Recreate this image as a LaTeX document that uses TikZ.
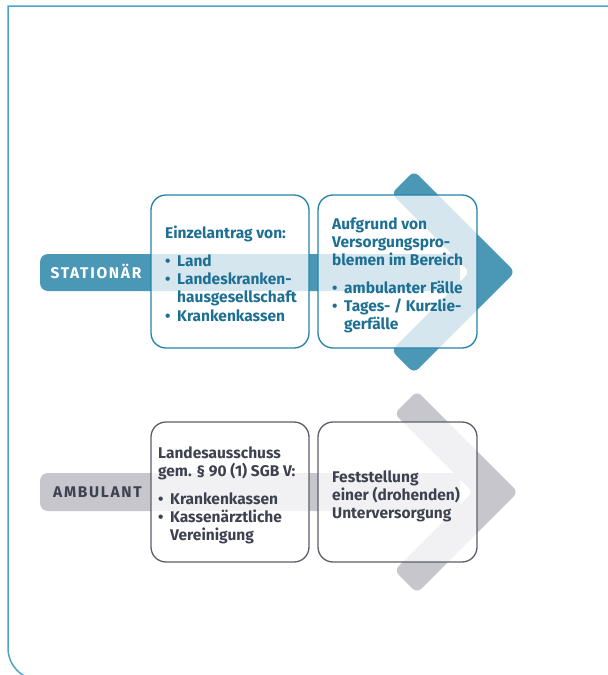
\documentclass[tikz,border=0pt]{standalone}
\usepackage{fontspec}
\setmainfont{Fira Sans}
\definecolor{tealdark}{HTML}{4A97B6}
\definecolor{tealline}{HTML}{2482A8}
\definecolor{tealtext}{HTML}{1D6F94}
\definecolor{graydark}{HTML}{C6C6CC}
\definecolor{grayline}{HTML}{5B5E6B}
\definecolor{graytext}{HTML}{3E4150}
\definecolor{framecol}{HTML}{4AA3C9}
\tikzset{
  box/.style={line width=1.3pt, rounded corners=15pt, fill=white, fill opacity=0.77, minimum width=#1},
  txt/.style={anchor=base west, inner sep=0pt, font=\bfseries\fontsize{15.5}{18}\selectfont},
  lbl/.style={anchor=center, inner sep=0pt, font=\bfseries\fontsize{15.5}{18}\selectfont\addfontfeatures{LetterSpace=11}},
}
\newcommand{\bul}{\makebox[12pt][l]{•}}
\begin{document}
\begin{tikzpicture}[x=1pt,y=-1pt]
\useasboundingbox (0,0) rectangle (608,675);
% frame
\draw[framecol, line width=1.5pt] (620,6) -- (8,6) -- (8,648) .. controls (8,665.7) and (22.3,680) .. (40,680) -- (120,680);
% ---------- top row ----------
\fill[tealdark, rounded corners=8pt] (460,254) -- (40,254) -- (40,291) -- (460,291) -- cycle;
\fill[tealdark, rounded corners=6pt] (515,272) -- (414,171) -- (391.4,193.6) -- (469.75,272) -- (391.4,350.4) -- (414,373) -- cycle;
\node[box=158pt, draw=tealline, minimum height=153pt] (b1) at (230,271.5) {};
\node[box=159pt, draw=tealline, minimum height=153pt] (b2) at (397.5,271.5) {};
\node[lbl, white] (l1) at (96,271) {STATIONÄR};
\begin{scope}[tealtext]
\node[txt] (a1) at (165,238) {Einzelantrag von:};
\node[txt] (a2) at (165,266) {\bul Land};
\node[txt] (a3) at (165,284) {\bul Landeskranken-};
\node[txt] (a4) at (177,302) {hausgesellschaft};
\node[txt] (a5) at (165,321) {\bul Krankenkassen};
\node[txt] (c1) at (332,229) {Aufgrund von};
\node[txt] (c2) at (332,247) {Versorgungspro-};
\node[txt] (c3) at (332,265) {blemen im Bereich};
\node[txt] (c4) at (332,293) {\bul ambulanter Fälle};
\node[txt] (c5) at (332,311) {\bul Tages- / Kurzlie-};
\node[txt] (c6) at (344,329) {gerfälle};
\end{scope}
% ---------- bottom row ----------
\fill[graydark, rounded corners=8pt] (460,473) -- (40,473) -- (40,511) -- (460,511) -- cycle;
\fill[graydark, rounded corners=6pt] (518,492) -- (417,391) -- (394.4,413.6) -- (472.75,492) -- (394.4,570.4) -- (417,593) -- cycle;
\node[box=158pt, draw=grayline, minimum height=140pt] (b3) at (230,492) {};
\node[box=159pt, draw=grayline, minimum height=140pt] (b4) at (397.5,492) {};
\node[lbl, graytext] (l2) at (97.5,492) {AMBULANT};
\begin{scope}[graytext]
\node[txt] (d1) at (158,458) {Landesausschuss};
\node[txt] (d2) at (158,476) {gem. § 90 (1) SGB V:};
\node[txt] (d3) at (158,504) {\bul Krankenkassen};
\node[txt] (d4) at (158,522) {\bul Kassenärztliche};
\node[txt] (d5) at (170,540) {Vereinigung};
\node[txt] (e1) at (332,482) {Feststellung};
\node[txt] (e2) at (332,500) {einer (drohenden)};
\node[txt] (e3) at (332,518) {Unterversorgung};
\end{scope}
\end{tikzpicture}
\end{document}
